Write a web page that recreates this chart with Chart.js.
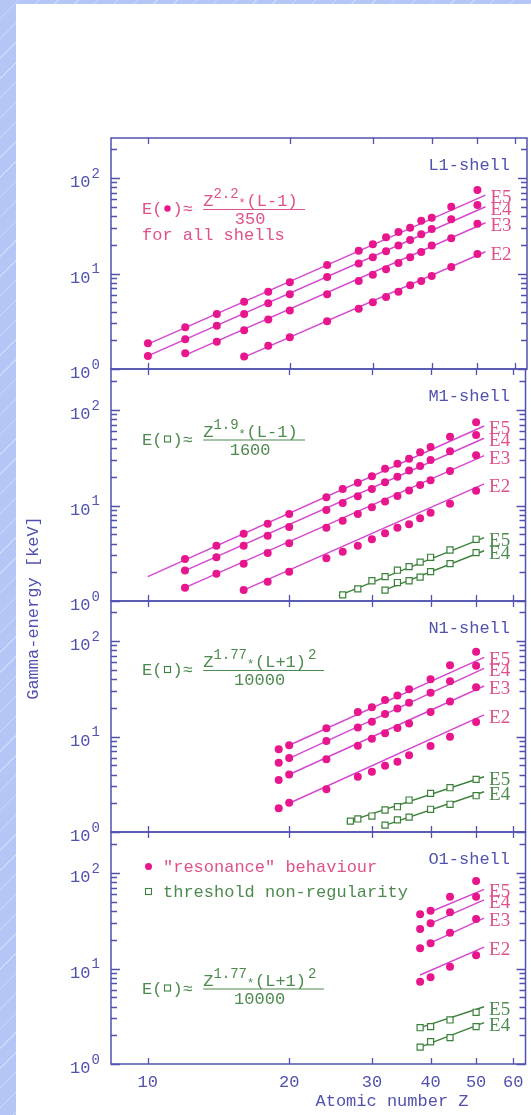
<!DOCTYPE html>
<html>
<head>
<meta charset="utf-8">
<script src="https://cdn.jsdelivr.net/npm/chart.js@4.4.1/dist/chart.umd.min.js"></script>
<style>
  html, body { margin: 0; padding: 0; }
  body {
    width: 531px; height: 1115px; position: relative; overflow: hidden;
    background: #b3c6f6 repeating-linear-gradient(135deg, rgba(255,255,255,0) 0 13px, rgba(255,255,255,0.35) 13px 14px);
  }
  #sheet { position: absolute; left: 16px; top: 4px; right: 0; bottom: 0; background: #fff; }
  canvas { position: absolute; left: 0; top: 0; }
</style>
</head>
<body>
<div id="sheet"></div>
<canvas id="p0" width="531" height="1115"></canvas>
<canvas id="p1" width="531" height="1115"></canvas>
<canvas id="p2" width="531" height="1115"></canvas>
<canvas id="p3" width="531" height="1115"></canvas>
<script>
// ---- data (Z = atomic number, E in keV) ----
const SERIES = ['E5', 'E4', 'E3', 'E2'];
const GREEN_SERIES = ['E5', 'E4'];
const X_TICKS = [10, 20, 30, 40, 50, 60];

// L1-shell
const Z_L1 = [10, 12, 14, 16, 18, 20, 24, 28, 30, 32, 34, 36, 38, 40, 44, 50];
const L1_E5 = [1.86, 2.73, 3.77, 5.07, 6.45, 8.09, 12.3, 17.3, 20.2, 23.9, 27.2, 30.2, 35.7, 38.4, 50.1, 74.9];
const L1_E4 = [1.37, 2.05, 2.84, 3.77, 4.87, 6.05, 9.2, 12.7, 14.8, 17.1, 19.7, 22.4, 25.7, 29.2, 36.9, 52.2];
const L1_E3 = [null, 1.46, 1.93, 2.54, 3.29, 4.11, 6.05, 8.35, 9.72, 11.1, 12.9, 14.8, 16.8, 19.7, 23.4, 33.2];
const L1_E2 = [null, null, null, 1.35, 1.75, 2.15, 3.16, 4.28, 4.99, 5.67, 6.45, 7.52, 8.35, 9.42, 11.7, 16.0];
const L1_FIT_Z = [[10, 52], [10, 52], [12, 52], [16, 52]];
const L1_FIT_E = [[1.82, 66], [1.37, 50], [1.40, 34], [1.33, 16.9]];

// M1-shell
const Z_M1 = [12, 14, 16, 18, 20, 24, 26, 28, 30, 32, 34, 36, 38, 40, 44, 50];
const M1_E5 = [2.75, 3.80, 5.07, 6.45, 8.15, 12.2, 14.9, 17.3, 20.2, 24.3, 27.4, 30.9, 36.1, 41.0, 52.6, 74.3];
const M1_E4 = [2.08, 2.87, 3.80, 4.83, 5.96, 8.97, 10.6, 12.5, 14.9, 17.5, 20.0, 23.2, 25.9, 29.9, 36.9, 54.7];
const M1_E3 = [1.38, 1.93, 2.46, 3.18, 4.02, 5.86, 6.93, 8.15, 9.57, 11.0, 12.6, 14.4, 16.4, 18.4, 23.0, 33.5];
const M1_E2 = [null, null, 1.30, 1.59, 2.03, 2.80, 3.28, 3.80, 4.42, 5.11, 5.86, 6.35, 7.34, 8.41, 10.4, 14.3];
const M1_FIT_Z = [[10, 52], [12, 52], [12, 52], [16, 52]];
const M1_FIT_E = [[1.80, 68], [2.08, 50.6], [1.38, 33.2], [1.30, 16.8]];
const Z_M1_G = [26, 28, 30, 32, 34, 36, 38, 40, 44, 50];
const M1_G5 = [1.16, 1.34, 1.63, 1.80, 2.10, 2.29, 2.55, 2.87, 3.42, 4.43];
const M1_G4 = [null, null, null, 1.30, 1.56, 1.63, 1.78, 2.03, 2.46, 3.21];
const M1_GFIT_Z = [[25.5, 52], [31.5, 52]];
const M1_GFIT_E = [[1.14, 4.6], [1.27, 3.36]];

// N1-shell
const Z_N1 = [19, 20, 24, 28, 30, 32, 34, 36, 40, 44, 50];
const N1_E5 = [7.34, 8.08, 12.2, 18.1, 20.2, 24.1, 26.8, 31.2, 39.7, 55.6, 77.3];
const N1_E4 = [5.32, 5.95, 8.97, 12.4, 14.3, 17.2, 19.7, 22.6, 28.8, 37.8, 55.2];
const N1_E3 = [3.50, 4.0, 5.77, 8.02, 9.49, 10.8, 12.3, 13.7, 18.1, 23.2, 32.7];
const N1_E2 = [1.77, 2.02, 2.80, 3.80, 4.28, 4.95, 5.45, 6.35, 7.95, 9.96, 14.2];
const N1_FIT_Z = [[20, 52], [20, 52], [20, 52], [20, 52]];
const N1_FIT_E = [[8.1, 67.5], [5.9, 51.8], [4.0, 33.8], [2.0, 16.8]];
const Z_N1_G = [27, 28, 30, 32, 34, 36, 40, 44, 50];
const N1_G5 = [1.30, 1.37, 1.47, 1.70, 1.84, 2.16, 2.54, 2.91, 3.56];
const N1_G4 = [null, null, null, 1.18, 1.34, 1.43, 1.73, 1.95, 2.40];
const N1_GFIT_Z = [[26.5, 52], [31.4, 52]];
const N1_GFIT_E = [[1.27, 3.79], [1.14, 2.64]];

// O1-shell
const Z_O1 = [38, 40, 44, 50];
const O1_E5 = [36.9, 40.3, 56.5, 82.5];
const O1_E4 = [25.9, 29.7, 38.7, 56.5];
const O1_E3 = [16.3, 18.4, 23.7, 33.0];
const O1_E2 = [7.28, 8.09, 10.4, 13.8];
const O1_FIT_Z = [[40, 52], [40, 52], [40, 52], [38, 52]];
const O1_FIT_E = [[39.3, 67.5], [29.7, 52.2], [18.6, 33.6], [8.55, 16.7]];
const Z_O1_G = [38, 40, 44, 50];
const O1_G5 = [2.40, 2.46, 2.89, 3.48];
const O1_G4 = [1.50, 1.71, 1.89, 2.46];
const O1_GFIT_Z = [[38, 52], [38, 52]];
const O1_GFIT_E = [[2.40, 3.98], [1.50, 2.71]];

// ---- styling ----
const BLUE = '#5151b0';
const MAGENTA = '#e8168c';
const VIOLET = '#d446d0';
const PINK_TEXT = '#e0508a';
const GREEN = '#3b813b';
const GREEN_TEXT = '#4d8a4f';
const MONO = '"Liberation Mono", "DejaVu Sans Mono", monospace';
const SERIF = '"Liberation Serif", "DejaVu Serif", serif';
const CW = 10.2; // mono char width at 17px
const PX_PER_DECADE = 95.5;

const PANELS = [
  { top: 138, bottom: 369, name: 'L1-shell', z: Z_L1, mag: [L1_E5, L1_E4, L1_E3, L1_E2],
    fitZ: L1_FIT_Z, fitE: L1_FIT_E,
    formula: { lineY: 209, color: PINK_TEXT, sym: 'dot', exp: '2.2', tail: '(L-1)', tailExp: '', denom: '350', lineEnd: 305, extra: 'for all shells' } },
  { top: 369, bottom: 601, name: 'M1-shell', z: Z_M1, mag: [M1_E5, M1_E4, M1_E3, M1_E2],
    fitZ: M1_FIT_Z, fitE: M1_FIT_E, gz: Z_M1_G, green: [M1_G5, M1_G4], gFitZ: M1_GFIT_Z, gFitE: M1_GFIT_E,
    formula: { lineY: 439.5, color: GREEN_TEXT, sym: 'box', exp: '1.9', tail: '(L-1)', tailExp: '', denom: '1600', lineEnd: 305 } },
  { top: 601, bottom: 832, name: 'N1-shell', z: Z_N1, mag: [N1_E5, N1_E4, N1_E3, N1_E2],
    fitZ: N1_FIT_Z, fitE: N1_FIT_E, gz: Z_N1_G, green: [N1_G5, N1_G4], gFitZ: N1_GFIT_Z, gFitE: N1_GFIT_E,
    formula: { lineY: 670, color: GREEN_TEXT, sym: 'box', exp: '1.77', tail: '(L+1)', tailExp: '2', denom: '10000', lineEnd: 324 } },
  { top: 832, bottom: 1064, name: 'O1-shell', z: Z_O1, mag: [O1_E5, O1_E4, O1_E3, O1_E2],
    fitZ: O1_FIT_Z, fitE: O1_FIT_E, gz: Z_O1_G, green: [O1_G5, O1_G4], gFitZ: O1_GFIT_Z, gFitE: O1_GFIT_E,
    formula: { lineY: 988.5, color: GREEN_TEXT, sym: 'box', exp: '1.77', tail: '(L+1)', tailExp: '2', denom: '10000', lineEnd: 324 },
    legend: true }
];

function points(z, vals) {
  const out = [];
  z.forEach((zz, i) => { if (vals[i] != null) out.push({ x: zz, y: vals[i] }); });
  return out;
}

function buildDatasets(p) {
  const ds = [];
  p.mag.forEach((vals, i) => {
    ds.push({ data: points(p.z, vals), pointStyle: 'circle', pointRadius: 4, backgroundColor: MAGENTA,
      borderColor: MAGENTA, borderWidth: 0, showLine: false, order: 0 });
    ds.push({ data: [{ x: p.fitZ[i][0], y: p.fitE[i][0] }, { x: p.fitZ[i][1], y: p.fitE[i][1] }],
      showLine: true, pointRadius: 0, borderColor: VIOLET, borderWidth: 1.4, order: 1,
      endLabel: SERIES[i], labelColor: PINK_TEXT });
  });
  if (p.green) {
    p.green.forEach((vals, i) => {
      ds.push({ data: points(p.gz, vals), pointStyle: 'rect', pointRadius: 4.3, backgroundColor: '#ffffff',
        borderColor: GREEN, borderWidth: 1.2, showLine: false, order: 0 });
      ds.push({ data: [{ x: p.gFitZ[i][0], y: p.gFitE[i][0] }, { x: p.gFitZ[i][1], y: p.gFitE[i][1] }],
        showLine: true, pointRadius: 0, borderColor: GREEN, borderWidth: 1.4, order: 1,
        endLabel: GREEN_SERIES[i], labelColor: GREEN_TEXT });
    });
  }
  return ds;
}

function drawFrame(chart) {
  const ctx = chart.ctx;
  const a = chart.chartArea;
  const xs = chart.scales.x, ys = chart.scales.y;
  ctx.save();
  ctx.strokeStyle = BLUE;
  ctx.lineWidth = 1.5;
  ctx.strokeRect(a.left, a.top, a.right - a.left, a.bottom - a.top);
  ctx.lineWidth = 1.3;
  ctx.beginPath();
  X_TICKS.forEach(v => {
    const x = Math.round(xs.getPixelForValue(v)) + 0.5;
    ctx.moveTo(x, a.top); ctx.lineTo(x, a.top + 6);
    ctx.moveTo(x, a.bottom); ctx.lineTo(x, a.bottom - 6);
  });
  [1, 10, 100].forEach(dec => {
    for (let m = 1; m <= 9; m++) {
      const v = m * dec;
      if (v > ys.max) break;
      const y = Math.round(ys.getPixelForValue(v)) + 0.5;
      const len = m === 1 ? 9 : 6;
      ctx.moveTo(a.left, y); ctx.lineTo(a.left + len, y);
      ctx.moveTo(a.right, y); ctx.lineTo(a.right - len, y);
    }
  });
  ctx.stroke();
  ctx.restore();
}

function drawFormula(ctx, f) {
  const x = 142;
  const y = f.lineY;
  ctx.save();
  ctx.fillStyle = f.color;
  ctx.textBaseline = 'alphabetic';
  ctx.textAlign = 'left';
  ctx.font = '17px ' + MONO;
  ctx.fillText('E(', x, y + 5);
  ctx.fillText(')\u2248', x + 3 * CW, y + 5);
  // symbol inside the brackets
  const sx = x + 2.5 * CW, sy = y - 0.5;
  if (f.sym === 'dot') {
    ctx.fillStyle = MAGENTA;
    ctx.beginPath(); ctx.arc(sx, sy, 3.2, 0, Math.PI * 2); ctx.fill();
  } else {
    ctx.strokeStyle = GREEN; ctx.lineWidth = 1.1;
    ctx.strokeRect(sx - 3, sy - 3, 6, 6);
  }
  ctx.fillStyle = f.color;
  const x0 = x + 6 * CW;
  ctx.font = '17px ' + MONO;
  ctx.fillText('Z', x0, y - 3);
  ctx.font = '14px ' + MONO;
  ctx.fillText(f.exp, x0 + CW, y - 11);
  let cx = x0 + CW + f.exp.length * 8.4;
  ctx.font = '12px ' + MONO;
  ctx.fillText('*', cx, y - 2);
  cx += 8;
  ctx.font = '17px ' + MONO;
  ctx.fillText(f.tail, cx, y - 3);
  cx += f.tail.length * CW;
  if (f.tailExp) {
    ctx.font = '14px ' + MONO;
    ctx.fillText(f.tailExp, cx + 2, y - 11);
  }
  ctx.strokeStyle = f.color;
  ctx.lineWidth = 1.2;
  ctx.beginPath(); ctx.moveTo(x0, y + 0.5); ctx.lineTo(f.lineEnd, y + 0.5); ctx.stroke();
  ctx.font = '17px ' + MONO;
  ctx.textAlign = 'center';
  ctx.fillText(f.denom, (x0 + f.lineEnd) / 2 - 4, y + 15);
  if (f.extra) {
    ctx.textAlign = 'left';
    ctx.fillText(f.extra, x, y + 31);
  }
  ctx.restore();
}

function drawTexts(chart, p, isLast) {
  const ctx = chart.ctx;
  const a = chart.chartArea;
  const xs = chart.scales.x, ys = chart.scales.y;
  ctx.save();
  // y tick labels 10^0, 10^1, 10^2
  ctx.fillStyle = BLUE;
  ctx.textBaseline = 'middle';
  ctx.textAlign = 'left';
  [0, 1, 2].forEach(e => {
    const y = ys.getPixelForValue(Math.pow(10, e));
    ctx.font = '17px ' + MONO;
    ctx.fillText('10', 70, y + 4.5);
    ctx.font = '14px ' + MONO;
    ctx.fillText(String(e), 91.5, y - 4);
  });
  // shell name
  ctx.font = '17px ' + MONO;
  ctx.textAlign = 'right';
  ctx.fillText(p.name, 510, a.top + 27);
  // labels at the end of each fitted line
  ctx.textAlign = 'left';
  ctx.font = '19px ' + SERIF;
  chart.data.datasets.forEach((ds, i) => {
    if (!ds.endLabel) return;
    const meta = chart.getDatasetMeta(i);
    const last = meta.data[meta.data.length - 1];
    ctx.fillStyle = ds.labelColor;
    ctx.fillText(ds.endLabel, last.x + 5, last.y + 3);
  });
  drawFormula(ctx, p.formula);
  if (p.legend) {
    ctx.fillStyle = MAGENTA;
    ctx.beginPath(); ctx.arc(148.5, 866.5, 3.5, 0, Math.PI * 2); ctx.fill();
    ctx.strokeStyle = GREEN; ctx.lineWidth = 1.1;
    ctx.strokeRect(145.5, 888.5, 6, 6);
    ctx.font = '17px ' + MONO;
    ctx.textBaseline = 'middle';
    ctx.fillStyle = PINK_TEXT;
    ctx.fillText('"resonance" behaviour', 163, 867);
    ctx.fillStyle = GREEN_TEXT;
    ctx.fillText('threshold non-regularity', 163, 892);
  }
  if (isLast) {
    ctx.fillStyle = BLUE;
    ctx.font = '17px ' + MONO;
    ctx.textAlign = 'center';
    ctx.textBaseline = 'middle';
    X_TICKS.forEach(v => ctx.fillText(String(v), xs.getPixelForValue(v), 1082));
    ctx.fillText('Atomic number Z', 392, 1101);
    ctx.save();
    ctx.translate(33, 608);
    ctx.rotate(-Math.PI / 2);
    ctx.fillText('Gamma-energy [keV]', 0, 0);
    ctx.restore();
  }
  ctx.restore();
}

PANELS.forEach((p, idx) => {
  const isLast = idx === PANELS.length - 1;
  const yMax = Math.pow(10, (p.bottom - p.top) / PX_PER_DECADE);
  new Chart(document.getElementById('p' + idx), {
    type: 'scatter',
    data: { datasets: buildDatasets(p) },
    options: {
      responsive: false,
      animation: false,
      events: [],
      layout: { padding: { left: 111, right: 0, top: p.top, bottom: 1115 - p.bottom } },
      plugins: { legend: { display: false }, tooltip: { enabled: false } },
      scales: {
        x: { type: 'logarithmic', min: 8.35, max: 63.7, display: false },
        y: { type: 'logarithmic', min: 1, max: yMax, display: false }
      }
    },
    plugins: [{
      id: 'panel' + idx,
      beforeDatasetsDraw(chart) { drawFrame(chart); },
      afterDatasetsDraw(chart) { drawTexts(chart, p, isLast); }
    }]
  });
});
</script>
</body>
</html>
